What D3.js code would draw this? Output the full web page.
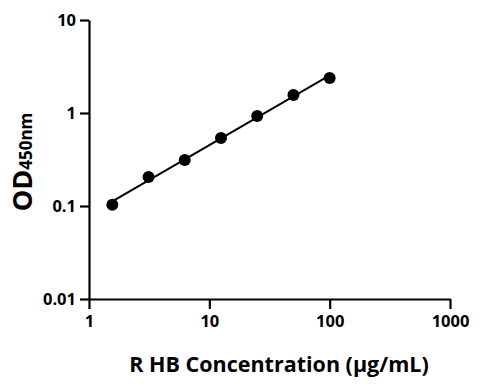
<!DOCTYPE html>
<html><head><meta charset="utf-8">
<script src="https://cdn.jsdelivr.net/npm/d3@7/dist/d3.min.js"></script>
<style>body{margin:0;background:#fff;} text{font-family:"Open Sans",sans-serif;font-weight:700;fill:#000;}</style>
</head><body>
<svg id="c" width="483" height="391"></svg>
<script>
const conc = [1.5625, 3.125, 6.25, 12.5, 25, 50, 100];
const od = [0.103, 0.205, 0.313, 0.54, 0.93, 1.56, 2.38];
const xTicks = [1, 10, 100, 1000];
const yTicks = [0.01, 0.1, 1, 10];
const xTitle = "R HB Concentration (µg/mL)";

const svg = d3.select("#c");
const x = d3.scaleLog().domain([1, 1000]).range([89, 450]);
const y = d3.scaleLog().domain([0.01, 10]).range([299, 20]);

// fit line (least squares in log-log space)
const lx = conc.map(Math.log10), ly = od.map(Math.log10);
const mx = d3.mean(lx), my = d3.mean(ly);
const slope = d3.sum(lx.map((v,i)=>(v-mx)*(ly[i]-my))) / d3.sum(lx.map(v=>(v-mx)*(v-mx)));
const inter = my - slope*mx;
const fitX = [conc[0], conc[conc.length-1]];
svg.append("path")
  .attr("d", d3.line().x(d=>x(d)).y(d=>y(Math.pow(10, inter + slope*Math.log10(d))))(fitX))
  .attr("stroke","#000").attr("stroke-width",2).attr("fill","none");

svg.selectAll("circle.pt").data(conc).join("circle")
  .attr("cx", d=>x(d)).attr("cy", (d,i)=>y(od[i])).attr("r", 6).attr("fill","#000");

const xa = svg.append("g").attr("transform","translate(0,299)")
  .call(d3.axisBottom(x).tickValues(xTicks).tickFormat(d3.format("d")).tickSize(10).tickSizeOuter(0));
const ya = svg.append("g").attr("transform","translate(89,0)")
  .call(d3.axisLeft(y).tickValues(yTicks).tickFormat(d=>String(d)).tickSize(9).tickSizeOuter(0));
[xa, ya].forEach(a=>{
  a.select(".domain").attr("stroke","#000").attr("stroke-width",2.2);
  a.selectAll(".tick line").attr("stroke","#000").attr("stroke-width",2.2);
  a.selectAll(".tick text").style("font-size","16.5px").style("font-family","'Open Sans',sans-serif").style("font-weight","700");
});
xa.selectAll(".tick text").attr("dy","0.71em").attr("y",16);
ya.selectAll(".tick text").attr("x",-13).attr("dy","0.35em");

svg.append("text").attr("x", 279).attr("y", 372).attr("text-anchor","middle")
  .style("font-size","21.5px").text(xTitle);

const yt = svg.append("text").attr("transform","translate(32,162) rotate(-90)").attr("text-anchor","middle");
yt.append("tspan").style("font-size","27px").text("OD");
yt.append("tspan").style("font-size","17px").text("450nm");
</script>
</body></html>
